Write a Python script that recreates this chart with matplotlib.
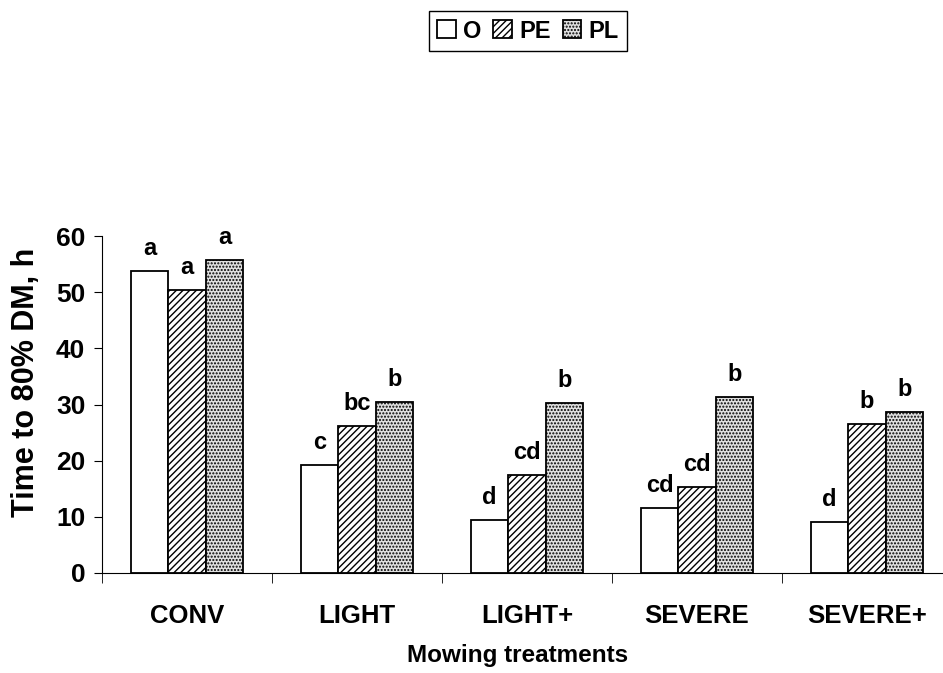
import matplotlib
matplotlib.use("Agg")
import matplotlib.pyplot as plt
import numpy as np

treatments = ["CONV", "LIGHT", "LIGHT+", "SEVERE", "SEVERE+"]
series = ["O", "PE", "PL"]
o_vals = [53.8, 19.2, 9.5, 11.5, 9.1]
pe_vals = [50.4, 26.2, 17.5, 15.3, 26.5]
pl_vals = [55.7, 30.5, 30.3, 31.3, 28.6]
o_letters = ["a", "c", "d", "cd", "d"]
pe_letters = ["a", "bc", "cd", "cd", "b"]
pl_letters = ["a", "b", "b", "b", "b"]

plt.rcParams['font.family'] = ['Liberation Sans', 'DejaVu Sans']
plt.rcParams['hatch.linewidth'] = 1.0

fig = plt.figure(figsize=(9.43, 6.73), dpi=100)
ax = fig.add_axes([102 / 943, 100 / 673, 850 / 943, 337 / 673])

x = np.arange(len(treatments))
w = 0.22
styles = [
    dict(facecolor="white", hatch=None),
    dict(facecolor="white", hatch="/////"),
    dict(facecolor="#e0e0e0", hatch="....."),
]
data = [o_vals, pe_vals, pl_vals]
letters = [o_letters, pe_letters, pl_letters]

handles = []
for i, (vals, st) in enumerate(zip(data, styles)):
    b = ax.bar(x + (i - 1) * w, vals, w, facecolor=st["facecolor"],
               hatch=st["hatch"], edgecolor="black", linewidth=1.3,
               label=series[i])
    handles.append(b)
    for xi, v, lab in zip(x + (i - 1) * w, vals, letters[i]):
        ax.annotate(lab, (xi, v), xytext=(0, 8), textcoords="offset points",
                    ha="center", va="bottom", fontsize=17, fontweight="bold")

ax.set_xlim(-0.5, 4.5)
ax.set_ylim(0, 60)
ax.set_yticks(range(0, 61, 10))
ax.set_xticks(x)
ax.set_xticklabels(treatments)
ax.set_xticks(np.arange(-0.5, 4.6, 1.0), minor=True)
ax.tick_params(axis="x", which="major", length=0, pad=22, labelsize=18.5)
ax.tick_params(axis="x", which="minor", length=7, direction="out")
ax.tick_params(axis="y", length=6, direction="out", labelsize=19, pad=6)
for t in ax.get_xticklabels() + ax.get_yticklabels():
    t.set_fontweight("bold")

ax.spines["top"].set_visible(False)
ax.spines["right"].set_visible(False)

ax.set_xlabel("Mowing treatments", fontsize=17.5, fontweight="bold")
ax.xaxis.set_label_coords(0.489, -0.212)
ax.set_ylabel("Time to 80% DM, h", fontsize=22, fontweight="bold")
ax.yaxis.set_label_coords(-0.072, 0.565)

leg = fig.legend(handles=handles, labels=series, loc="center",
                 bbox_to_anchor=(528 / 943, 1 - 31 / 673), ncol=3,
                 fancybox=False, edgecolor="black", framealpha=1,
                 prop=dict(size=17, weight="bold"), handlelength=0.8,
                 handleheight=0.8, handletextpad=0.3, columnspacing=0.5,
                 borderpad=0.35, borderaxespad=0)
leg.get_frame().set_linewidth(1.0)

fig.savefig("out.png", dpi=100)
